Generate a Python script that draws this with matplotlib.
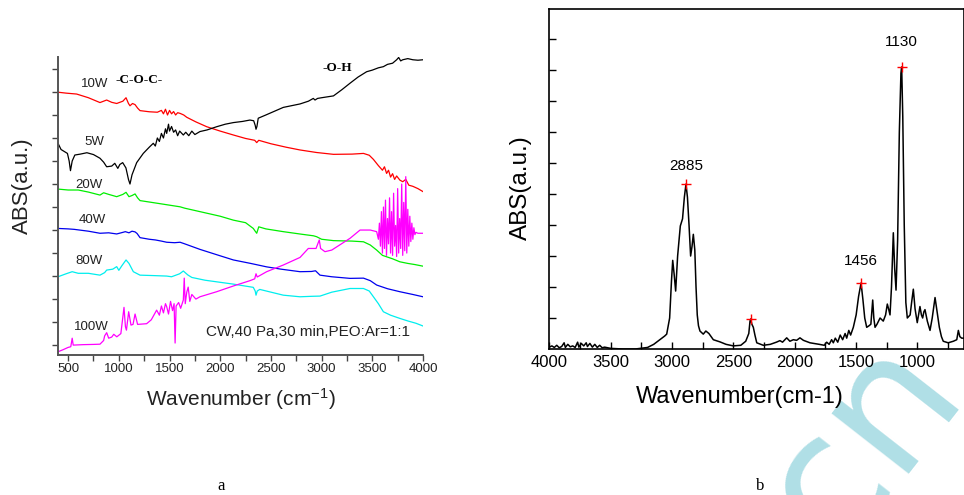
import numpy as np
import matplotlib
matplotlib.use('Agg')
import matplotlib.pyplot as plt

plt.rcParams['font.family'] = ['Liberation Sans', 'DejaVu Sans']
plt.rcParams['mathtext.default'] = 'regular'

# ---------------- data, panel a (FTIR spectra at different powers) ----------------
wn_10w = [400, 480, 584, 700, 814, 880, 930, 979, 1040, 1071, 1095, 1110, 1135, 1160, 1185, 1209, 1300, 1380,
          1420, 1440, 1460, 1480, 1500, 1520, 1540, 1560, 1580, 1604, 1640, 1670, 1760, 1867, 2000, 2130, 2250,
          2340, 2360, 2380, 2500, 2650, 2787, 2950, 3117, 3300, 3413, 3470, 3511, 3560, 3600, 3620, 3641, 3660,
          3680, 3700, 3720, 3740, 3772, 3800, 3830, 3860, 3900, 3950, 4000]
abs_10w = [10.99, 10.95, 10.91, 10.75, 10.54, 10.65, 10.55, 10.5, 10.6, 10.75, 10.5, 10.4, 10.5, 10.45, 10.3, 10.19,
           10.14, 10.12, 10.2, 10.05, 10.25, 10.0, 10.2, 10.05, 10.15, 10.0, 10.1, 10.07, 10.0, 9.9, 9.7, 9.49, 9.3,
           9.13, 8.98, 8.9, 8.8, 8.9, 8.75, 8.6, 8.48, 8.37, 8.29, 8.3, 8.33, 8.25, 8.07, 7.8, 7.6, 7.75, 7.46, 7.6,
           7.3, 7.45, 7.2, 7.35, 7.17, 7.1, 7.2, 6.95, 6.9, 6.8, 6.67]

wn_5w = [400, 430, 493, 510, 523, 540, 566, 620, 685, 750, 814, 850, 880, 930, 960, 990, 1010, 1038, 1070, 1095,
         1110, 1130, 1176, 1241, 1300, 1340, 1360, 1380, 1400, 1420, 1440, 1460, 1472, 1490, 1500, 1520, 1540,
         1560, 1580, 1600, 1636, 1660, 1690, 1720, 1750, 1800, 1870, 1965, 2050, 2130, 2220, 2293, 2330, 2345,
         2353, 2362, 2375, 2450, 2622, 2787, 2870, 2918, 2935, 2960, 3000, 3117, 3200, 3280, 3360, 3444, 3500,
         3560, 3609, 3650, 3700, 3740, 3760, 3780, 3800, 3850, 3900, 3950, 4000]
abs_5w = [8.77, 8.5, 8.33, 8.0, 7.58, 8.0, 8.26, 8.3, 8.36, 8.28, 8.12, 7.95, 7.75, 7.78, 7.9, 7.68, 7.85, 7.93,
          7.7, 7.2, 7.0, 7.4, 7.93, 8.33, 8.6, 8.77, 8.65, 9.0, 8.85, 9.2, 9.0, 9.4, 9.2, 9.6, 9.3, 9.5, 9.25, 9.35,
          9.1, 9.3, 9.13, 9.25, 9.1, 9.3, 9.15, 9.28, 9.35, 9.49, 9.6, 9.67, 9.72, 9.78, 9.75, 9.55, 9.38, 9.5,
          9.86, 10.0, 10.33, 10.48, 10.6, 10.72, 10.65, 10.72, 10.75, 10.83, 11.1, 11.38, 11.65, 11.88, 11.95,
          12.05, 12.1, 12.2, 12.25, 12.4, 12.5, 12.35, 12.4, 12.45, 12.4, 12.38, 12.4]

wn_20w = [400, 500, 600, 700, 814, 850, 900, 979, 1040, 1071, 1100, 1130, 1160, 1185, 1209, 1400, 1604, 1650,
          1800, 2000, 2130, 2250, 2326, 2345, 2360, 2380, 2450, 2622, 2800, 2920, 2951, 3000, 3117, 3300, 3413,
          3480, 3543, 3600, 3640, 3700, 3772, 3850, 3920, 4000]
abs_20w = [6.78, 6.74, 6.74, 6.65, 6.52, 6.62, 6.55, 6.45, 6.55, 6.64, 6.45, 6.5, 6.57, 6.4, 6.28, 6.15, 6.01,
           5.95, 5.8, 5.6, 5.43, 5.32, 5.07, 4.95, 4.86, 5.14, 5.05, 4.93, 4.82, 4.75, 4.71, 4.6, 4.54, 4.52, 4.49,
           4.35, 4.13, 3.9, 3.84, 3.75, 3.62, 3.55, 3.5, 3.43]

wn_40w = [400, 500, 560, 700, 814, 900, 979, 1040, 1064, 1100, 1130, 1160, 1180, 1209, 1300, 1360, 1420, 1472,
          1550, 1604, 1650, 1800, 2000, 2130, 2300, 2458, 2600, 2787, 2900, 2940, 2984, 3100, 3280, 3413, 3480,
          3543, 3650, 3772, 3900, 4000]
abs_40w = [5.07, 5.05, 5.03, 4.95, 4.86, 4.88, 4.83, 4.9, 4.93, 4.88, 4.95, 4.92, 4.85, 4.67, 4.6, 4.57, 4.52,
           4.47, 4.45, 4.47, 4.4, 4.16, 3.88, 3.7, 3.55, 3.4, 3.3, 3.19, 3.2, 3.23, 3.04, 2.97, 2.9, 2.91, 2.8,
           2.61, 2.45, 2.32, 2.2, 2.1]

wn_80w = [400, 480, 540, 600, 700, 814, 860, 880, 940, 979, 1000, 1030, 1071, 1100, 1143, 1209, 1350, 1472, 1520,
          1600, 1636, 1680, 1720, 1850, 1965, 2130, 2326, 2345, 2353, 2365, 2390, 2622, 2787, 2900, 2984, 3100,
          3280, 3413, 3470, 3511, 3560, 3609, 3680, 3772, 3850, 3930, 4000]
abs_80w = [2.97, 3.1, 3.19, 3.12, 3.12, 3.04, 3.15, 3.26, 3.3, 3.41, 3.25, 3.45, 3.7, 3.55, 3.19, 3.04, 3.02, 3.0,
           2.97, 3.1, 3.22, 3.05, 2.94, 2.82, 2.75, 2.65, 2.51, 2.35, 2.17, 2.35, 2.42, 2.17, 2.1, 2.12, 2.13, 2.3,
           2.46, 2.46, 2.35, 2.1, 1.8, 1.45, 1.3, 1.16, 1.05, 0.95, 0.83]

wn_100w = [400, 450, 500, 526, 540, 550, 650, 750, 814, 850, 860, 880, 900, 930, 950, 980, 1020, 1051, 1065, 1075,
           1097, 1120, 1140, 1160, 1185, 1274, 1320, 1373, 1400, 1420, 1440, 1460, 1472, 1490, 1510, 1530, 1545,
           1555, 1565, 1590, 1610, 1636, 1645, 1655, 1670, 1684, 1700, 1720, 1760, 1800, 1965, 2130, 2293, 2340,
           2353, 2365, 2458, 2622, 2787, 2869, 2945, 2977, 2990, 3033, 3100, 3280, 3379, 3480, 3543,
           3560, 3570, 3580, 3590, 3600, 3610, 3620, 3630, 3640, 3650, 3660, 3670, 3680, 3690, 3700, 3710, 3720,
           3730, 3740, 3750, 3760, 3770, 3780, 3790, 3800, 3810, 3820, 3830, 3840, 3850, 3860, 3870, 3880, 3890,
           3900, 3910, 3920, 3930, 3950, 4000]
abs_100w = [-0.29, -0.2, -0.1, -0.07, 0.3, 0.0, 0.02, 0.03, 0.04, 0.2, 0.4, 0.54, 0.3, 0.35, 0.47, 0.36, 0.5, 1.64,
            0.8, 0.65, 1.45, 0.87, 0.9, 1.35, 0.9, 0.93, 1.1, 1.52, 1.3, 1.7, 1.4, 1.8, 1.67, 1.35, 1.9, 1.5, 1.8,
            0.09, 1.7, 1.85, 1.6, 1.96, 2.91, 1.8, 2.3, 2.52, 1.9, 2.2, 2.0, 2.1, 2.32, 2.57, 2.8, 2.88, 3.1, 2.96,
            3.19, 3.48, 3.81, 4.2, 4.2, 4.57, 4.2, 4.06, 4.13, 4.64, 5.0, 5.0, 4.93,
            4.6, 5.3, 4.3, 5.8, 4.0, 6.0, 4.2, 6.3, 3.9, 5.5, 4.4, 6.4, 4.0, 5.8, 3.9, 6.6, 4.3, 5.2, 3.85, 6.8,
            4.0, 5.5, 4.2, 7.0, 3.9, 6.2, 4.1, 7.32, 4.0, 5.9, 4.3, 5.6, 4.5, 5.3, 4.6, 5.1, 4.8, 4.9, 4.86, 4.86]

series_a = [
    ('10W', wn_10w, abs_10w, '#ff0000'),
    ('5W', wn_5w, abs_5w, '#000000'),
    ('20W', wn_20w, abs_20w, '#00ee00'),
    ('40W', wn_40w, abs_40w, '#0000ee'),
    ('80W', wn_80w, abs_80w, '#00eeee'),
    ('100W', wn_100w, abs_100w, '#ff00ff'),
]

# ---------------- data, panel b (PEO reference spectrum) ----------------
wn_peo = [4000, 3980, 3960, 3940, 3920, 3900, 3880, 3870, 3850, 3830, 3810, 3790, 3770, 3760, 3740, 3720, 3700,
          3690, 3670, 3650, 3630, 3610, 3590, 3570, 3550, 3500, 3400, 3300, 3200, 3150, 3100, 3060, 3044, 3020,
          3005, 2995, 2983, 2971, 2955, 2933, 2915, 2900, 2887, 2875, 2862, 2849, 2838, 2827, 2815, 2805, 2795,
          2785, 2773, 2746, 2725, 2700, 2664, 2610, 2560, 2501, 2440, 2400, 2375, 2365, 2359, 2350, 2338, 2325,
          2310, 2257, 2200, 2150, 2121, 2100, 2066, 2040, 2012, 1985, 1958, 1930, 1876, 1800, 1760, 1740, 1720,
          1700, 1686, 1670, 1650, 1630, 1610, 1590, 1577, 1560, 1545, 1523, 1500, 1480, 1460, 1445, 1430, 1414,
          1395, 1380, 1372, 1365, 1356, 1346, 1330, 1305, 1279, 1260, 1246, 1236, 1224, 1212, 1197, 1186, 1175,
          1162, 1148, 1135, 1129, 1120, 1108, 1095, 1083, 1060, 1048, 1034, 1020, 1002, 980, 968, 958, 948, 939,
          920, 898, 880, 857, 840, 822, 805, 790, 750, 708, 680, 667, 655, 640, 621]
abs_peo = [0.06, 0.1, 0.05, 0.12, 0.04, 0.08, 0.2, 0.05, 0.15, 0.07, 0.1, 0.05, 0.22, 0.06, 0.18, 0.1, 0.2, 0.08,
           0.18, 0.06, 0.15, 0.05, 0.12, 0.04, 0.06, 0.02, 0.0, 0.0, 0.05, 0.15, 0.3, 0.42, 0.48, 1.0, 2.2, 2.86,
           2.4, 1.87, 3.0, 3.97, 4.2, 4.9, 5.32, 4.9, 4.0, 3.0, 3.3, 3.7, 3.2, 2.0, 1.1, 0.75, 0.58, 0.48, 0.58,
           0.5, 0.3, 0.23, 0.15, 0.1, 0.12, 0.25, 0.5, 0.9, 0.97, 0.8, 0.7, 0.45, 0.2, 0.12, 0.15, 0.22, 0.27, 0.22,
           0.36, 0.25, 0.3, 0.28, 0.36, 0.28, 0.2, 0.15, 0.12, 0.22, 0.15, 0.3, 0.2, 0.35, 0.22, 0.45, 0.3, 0.5,
           0.35, 0.6, 0.45, 0.7, 1.1, 1.7, 2.13, 1.6, 1.0, 0.7, 0.75, 0.8, 1.2, 1.58, 1.0, 0.7, 0.8, 1.0, 0.9, 1.1,
           1.45, 1.3, 1.1, 2.0, 3.75, 2.6, 1.9, 3.5, 7.0, 8.9, 9.1, 7.5, 4.0, 1.5, 1.0, 1.1, 1.5, 1.93, 1.3, 0.85,
           1.37, 1.1, 1.0, 1.2, 1.27, 0.9, 0.6, 1.0, 1.66, 1.2, 0.7, 0.4, 0.25, 0.2, 0.25, 0.3, 0.6, 0.4, 0.35, 0.35]

peak_wn = [2887, 2359, 1460, 1129]
peak_text = ['2885', '', '1456', '1130']
peak_offset = [13, 0, 16, 18]   # label height above the marker, points

W, H = 964, 495


def fx(x):      # pixel -> figure fraction
    return x / W


def fy(y):
    return 1 - y / H


fig = plt.figure(figsize=(W / 100, H / 100), dpi=100)

# ===================== panel a =====================
ax1 = fig.add_axes([fx(58), fy(355), fx(423) - fx(58), fy(57) - fy(355)])
for name, wn, val, col in series_a:
    ax1.plot(wn, val, color=col, lw=0.9)

ax1.set_xlim(400, 4000)
ax1.set_ylim(-0.43, 12.52)
ax1.set_xticks(np.arange(500, 4001, 500))
ax1.set_xticks(np.arange(500, 4001, 250), minor=True)
ax1.set_yticks(np.arange(0, 12.1, 2))
ax1.set_yticks(np.arange(1, 12, 2), minor=True)
ax1.set_yticklabels([])
ax1.tick_params(which='both', direction='out', length=4, width=1, colors='#444', labelcolor='#222',
                labelsize=9.5, pad=2)
for s in ['top', 'right']:
    ax1.spines[s].set_visible(False)
for s in ['left', 'bottom']:
    ax1.spines[s].set_color('#555')
    ax1.spines[s].set_linewidth(1.4)

# curve labels
for txt, x, y in [('10W', 95, 84), ('5W', 94, 142), ('20W', 89, 185), ('40W', 92, 220),
                  ('80W', 89, 261), ('100W', 91, 327)]:
    fig.text(fx(x), fy(y), txt, fontsize=9.5, color='#222', ha='center', va='center')
fig.text(fx(139), fy(80), '-C-O-C-', fontsize=9.5, family=['Liberation Serif'], weight='bold',
         ha='center', va='center')
fig.text(fx(337), fy(68), '-O-H', fontsize=9.5, family=['Liberation Serif'], weight='bold',
         ha='center', va='center')
fig.text(fx(308), fy(332), 'CW,40 Pa,30 min,PEO:Ar=1:1', fontsize=11, color='#222', ha='center', va='center')

fig.text(fx(241), fy(399), 'Wavenumber (cm$^{-1}$)', fontsize=15, color='#222', ha='center', va='center')
fig.text(fx(22), fy(186), 'ABS(a.u.)', fontsize=16, color='#222', rotation=90, ha='center', va='center')
fig.text(fx(221), fy(486), 'a', fontsize=12, family=['Liberation Serif'], ha='center', va='center')

# ===================== panel b =====================
ax2 = fig.add_axes([fx(549.4), fy(349), 1 - fx(549.4), fy(9) - fy(349)])
ax2.plot(wn_peo, abs_peo, color='black', lw=1.1)
for w, t, off in zip(peak_wn, peak_text, peak_offset):
    v = abs_peo[wn_peo.index(w)]
    ax2.plot(w, v, '+', color='red', ms=7, mew=1)
    if t:
        ax2.annotate(t, (w, v), xytext=(0, off), textcoords='offset points', ha='center', va='center',
                     fontsize=11)

ax2.set_xlim(4000, 621)
ax2.set_ylim(0, 10.97)
ax2.set_xticks(np.arange(4000, 999, -500))
ax2.set_xticks(np.arange(4000, 700, -250), minor=True)
ax2.set_yticks(np.arange(1, 11))
ax2.set_yticklabels([])
ax2.tick_params(which='both', direction='in', length=5, width=1, labelsize=12, pad=4)
for s in ax2.spines.values():
    s.set_linewidth(1.2)

fig.text(fx(740), fy(397), 'Wavenumber(cm-1)', fontsize=17, ha='center', va='center')
fig.text(fx(521), fy(188), 'ABS(a.u.)', fontsize=17.5, rotation=90, ha='center', va='center')
fig.text(fx(760), fy(486), 'b', fontsize=12, family=['Liberation Serif'], ha='center', va='center')

# watermark behind everything (it runs off the lower-right edge, as in the original)
fig.text(fx(862), fy(442), 'cn', fontsize=128, family=['DejaVu Sans'], color='#b0dfe6', rotation=52,
         ha='center', va='center', rotation_mode='anchor', zorder=-1)

plt.savefig('out.png', dpi=100)
